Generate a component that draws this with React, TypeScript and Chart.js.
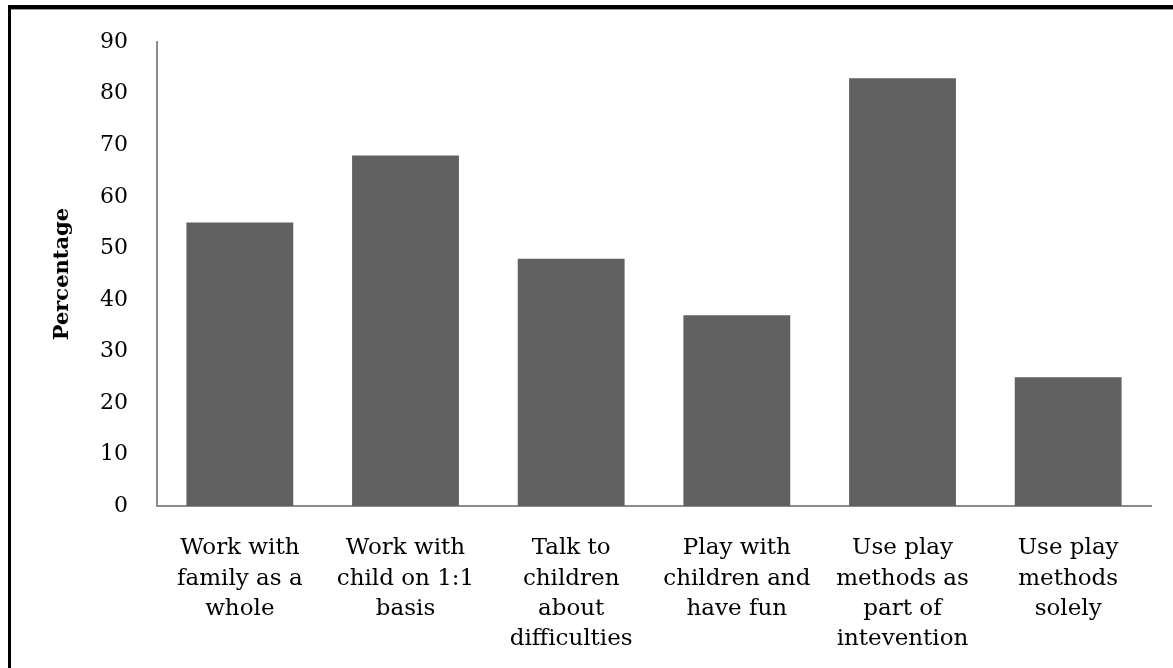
import React, { useEffect, useRef } from "react";
import { Chart, registerables } from "chart.js";

Chart.register(...registerables);

const categories: string[][] = [
  ["Work with", "family as a", "whole"],
  ["Work with", "child on 1:1", "basis"],
  ["Talk to", "children", "about", "difficulties"],
  ["Play with", "children and", "have fun"],
  ["Use play", "methods as", "part of", "intevention"],
  ["Use play", "methods", "solely"],
];

const percentages: number[] = [55, 68, 48, 37, 83, 25];

const yTicks = { min: 0, max: 90, step: 10 };

const W = 1173;
const H = 668;
const FONT = "'DejaVu Serif', serif";

export default function App() {
  const canvasRef = useRef<HTMLCanvasElement | null>(null);

  useEffect(() => {
    const canvas = canvasRef.current;
    if (!canvas) return;
    const chart = new Chart(canvas, {
      type: "bar",
      data: {
        labels: categories,
        datasets: [
          {
            label: "Percentage",
            data: percentages,
            backgroundColor: "#616161",
            barPercentage: 0.645,
            categoryPercentage: 1,
          },
        ],
      },
      options: {
        responsive: false,
        animation: false,
        devicePixelRatio: 1,
        layout: { padding: { top: 38, right: 22, left: 0, bottom: 0 } },
        plugins: {
          legend: { display: false },
          tooltip: { enabled: false },
        },
        scales: {
          x: {
            grid: { display: false, drawTicks: false },
            border: { display: true, color: "#8c8c8c", width: 2 },
            ticks: {
              color: "#000",
              font: { family: FONT, size: 23, lineHeight: 1.32 },
              padding: 27,
              maxRotation: 0,
              autoSkip: false,
            },
            afterFit: (scale: any) => {
              scale.height = 162;
            },
          },
          y: {
            min: yTicks.min,
            max: yTicks.max,
            grid: { display: false, drawTicks: false },
            border: { display: true, color: "#8c8c8c", width: 2 },
            ticks: {
              stepSize: yTicks.step,
              color: "#000",
              font: { family: FONT, size: 22 },
              padding: 29,
            },
            title: {
              display: true,
              text: "Percentage",
              color: "#000",
              font: { family: FONT, size: 21, weight: "bold" },
              padding: { top: 50, bottom: 0 },
            },
            afterFit: (scale: any) => {
              scale.width = 157;
            },
          },
        },
      },
    });
    return () => chart.destroy();
  }, []);

  return (
    <div
      style={{
        position: "fixed",
        left: 0,
        top: 0,
        width: W,
        height: H,
        overflow: "hidden",
        background: "#fff",
      }}
    >
      <div
        style={{
          position: "absolute",
          left: 8,
          top: 5,
          width: 1300,
          height: 800,
          borderTop: "4px solid #000",
          borderLeft: "3px solid #000",
          boxShadow: "inset 0 1px 0 #9a9a9a",
        }}
      />
      <canvas
        ref={canvasRef}
        width={W}
        height={H}
        style={{ position: "absolute", left: 0, top: 0, width: W, height: H }}
      />
    </div>
  );
}
